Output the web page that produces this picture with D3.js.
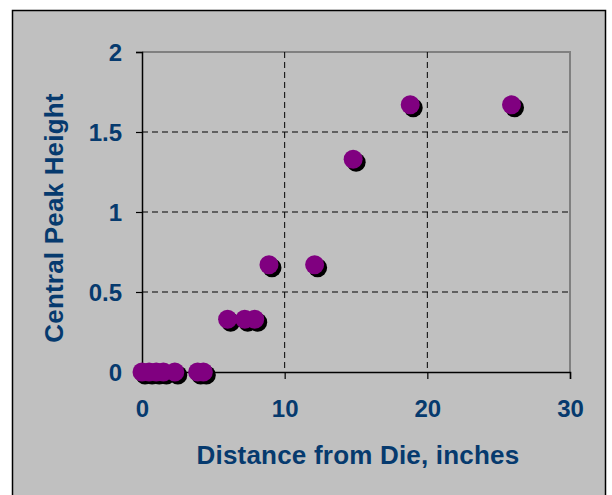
<!DOCTYPE html>
<html>
<head>
<meta charset="utf-8">
<script src="https://cdn.jsdelivr.net/npm/d3@7"></script>
<style>
html,body{margin:0;padding:0;background:#fff;}
svg{display:block;}
text{font-family:"Liberation Sans",Arial,sans-serif;font-weight:bold;fill:#063a6e;}
</style>
</head>
<body>
<svg id="chart" width="612" height="495"></svg>
<script>
const distance = [0, 0.5, 1, 1.5, 2.3, 3.9, 4.3, 6, 7.2, 7.9, 8.9, 12.1, 14.8, 18.8, 25.9];
const peakHeight = [0, 0, 0, 0, 0, 0, 0, 0.33, 0.33, 0.33, 0.67, 0.67, 1.33, 1.67, 1.67];
const xTicks = [0, 10, 20, 30];
const yTicks = [0, 0.5, 1, 1.5, 2];
const xTitle = "Distance from Die, inches";
const yTitle = "Central Peak Height";

const svg = d3.select("#chart");
// outer chart box
svg.append("rect").attr("x", 12.5).attr("y", 10.5).attr("width", 593).attr("height", 500)
  .attr("fill", "#c0c0c0").attr("stroke", "#000").attr("stroke-width", 1.5);

const L = 142, R = 570, T = 52, B = 372;
const x = d3.scaleLinear().domain([0, 30]).range([L, R]);
const y = d3.scaleLinear().domain([0, 2]).range([B, T]);

// plot frame top/right (gray)
svg.append("path").attr("d", `M${L},${T}H${R}V${B}`).attr("fill", "none")
  .attr("stroke", "#808080").attr("stroke-width", 2);

// grid
const g = svg.append("g");
g.selectAll(".vg").data(xTicks.filter(d => d > 0 && d < 30)).enter().append("line")
  .attr("x1", d => x(d)).attr("x2", d => x(d)).attr("y1", T).attr("y2", B)
  .attr("stroke", "#000").attr("stroke-dasharray", "6,4");
g.selectAll(".hg").data(yTicks.filter(d => d > 0 && d < 2)).enter().append("line")
  .attr("x1", L).attr("x2", R).attr("y1", d => y(d)).attr("y2", d => y(d))
  .attr("stroke", "#000").attr("stroke-dasharray", "6,4");

// axes
const xAxis = d3.axisBottom(x).tickValues(xTicks).tickSize(7).tickPadding(21).tickFormat(d3.format("d"));
const yAxis = d3.axisLeft(y).tickValues(yTicks).tickSize(6).tickPadding(14).tickFormat(d => d);
const xg = svg.append("g").attr("transform", `translate(0,${B})`).call(xAxis);
const yg = svg.append("g").attr("transform", `translate(${L},0)`).call(yAxis);
[xg, yg].forEach(a => {
  a.select(".domain").attr("stroke", "#000").attr("stroke-width", 1.5);
  a.selectAll(".tick line").attr("stroke", "#000").attr("stroke-width", 1.2);
  a.selectAll("text").style("font-size", "24px").attr("fill", "#063a6e")
    .style("font-family", "'Liberation Sans', Arial, sans-serif").style("font-weight", "bold");
});
yg.selectAll("text").attr("dy", "0.36em");

// data
const pts = distance.map((d, i) => ({x: d, y: peakHeight[i]}));
svg.append("g").selectAll("circle").data(pts).enter().append("circle")
  .attr("cx", d => x(d.x) + 3).attr("cy", d => y(d.y) + 3).attr("r", 9.5).attr("fill", "#000");
svg.append("g").selectAll("circle").data(pts).enter().append("circle")
  .attr("cx", d => x(d.x)).attr("cy", d => y(d.y)).attr("r", 9.5).attr("fill", "#800080");

// titles
svg.append("text").attr("x", 358).attr("y", 464).attr("text-anchor", "middle")
  .style("font-size", "26px").style("letter-spacing", "0.2px").text(xTitle);
svg.append("text").attr("transform", `translate(63,218) rotate(-90)`)
  .attr("text-anchor", "middle").style("font-size", "26px").style("letter-spacing", "0.2px").text(yTitle);
</script>
</body>
</html>
